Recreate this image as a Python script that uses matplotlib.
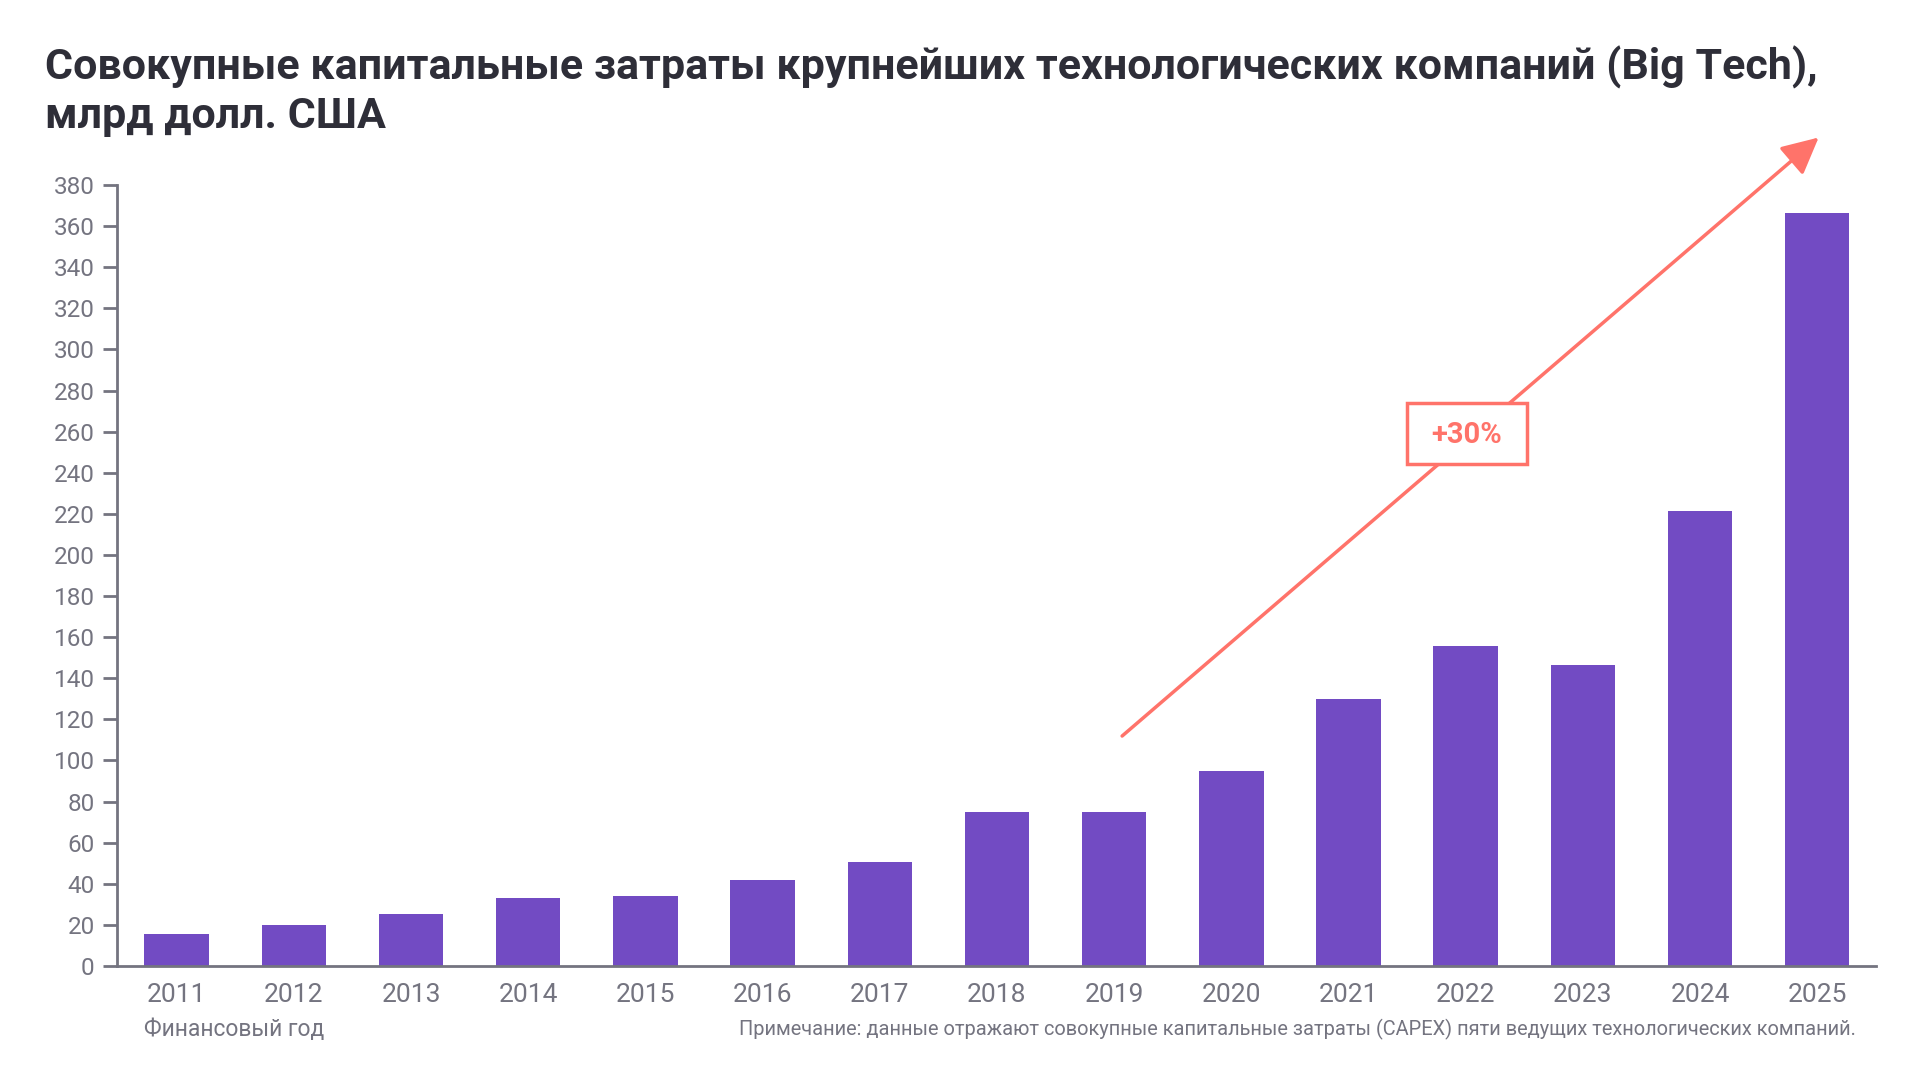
import matplotlib
matplotlib.use("Agg")
import matplotlib.pyplot as plt
from matplotlib.patches import FancyArrowPatch, Rectangle

years = ["2011", "2012", "2013", "2014", "2015", "2016", "2017", "2018",
         "2019", "2020", "2021", "2022", "2023", "2024", "2025"]
capex = [15.5, 20, 25.5, 33, 34, 42, 50.5, 75, 75, 95, 130, 155.5, 146.5, 221.5, 366.5]
yticks = list(range(0, 381, 20))

title = "Совокупные капитальные затраты крупнейших технологических компаний (Big Tech),\nмлрд долл. США"
xlabel = "Финансовый год"
note = "Примечание: данные отражают совокупные капитальные затраты (CAPEX) пяти ведущих технологических компаний."
growth_label = "+30%"

PURPLE = "#724BC3"
CORAL = "#FF736A"
GREY = "#747480"
DARK = "#2E2E38"

plt.rcParams['font.family'] = ['Roboto', 'DejaVu Sans']

fig = plt.figure(figsize=(19.2, 10.8), dpi=100)
ax = fig.add_axes([0.0609, 0.1056, 0.9161, 0.7231])

x = list(range(len(years)))
ax.bar(x, capex, width=0.55, color=PURPLE, zorder=2)

ax.set_xlim(-0.51, len(years) - 0.5)
ax.set_ylim(0, 380)
ax.set_yticks(yticks)
ax.set_yticklabels([str(v) for v in yticks])
ax.set_xticks(x)
ax.set_xticklabels(years)

for s in ["top", "right"]:
    ax.spines[s].set_visible(False)
for s in ["left", "bottom"]:
    ax.spines[s].set_color(GREY)
    ax.spines[s].set_linewidth(2)

ax.tick_params(axis="y", length=10, width=2, color=GREY, labelcolor=GREY,
               labelsize=17.5, pad=6)
ax.tick_params(axis="x", length=0, labelcolor=GREY, labelsize=19, pad=12)

# growth arrow
arrow = FancyArrowPatch((8.05, 111), (14.03, 404), arrowstyle="-|>,head_length=1.6,head_width=0.8",
                        mutation_scale=14, color=CORAL, lw=2.5, clip_on=False, zorder=3)
ax.add_patch(arrow)
ax.add_patch(Rectangle((10.5, 244.2), 1.02, 29.7, facecolor="white", edgecolor=CORAL,
                       lw=2.5, zorder=4, clip_on=False))
ax.text(11.01, 258.5, growth_label, ha="center", va="center", fontsize=21,
        fontweight="bold", color=CORAL, zorder=5)

fig.text(45 / 1920, 1 - 46 / 1080, title, ha="left", va="top", fontsize=31,
         fontweight="bold", color=DARK, linespacing=1.2)
fig.text(144 / 1920, 1 - 1029 / 1080, xlabel, ha="left", va="center",
         fontsize=16.5, color=GREY)
fig.text(1856 / 1920, 1 - 1029 / 1080, note, ha="right", va="center",
         fontsize=14.4, color=GREY)

fig.savefig("out.png", dpi=100, facecolor="white")
